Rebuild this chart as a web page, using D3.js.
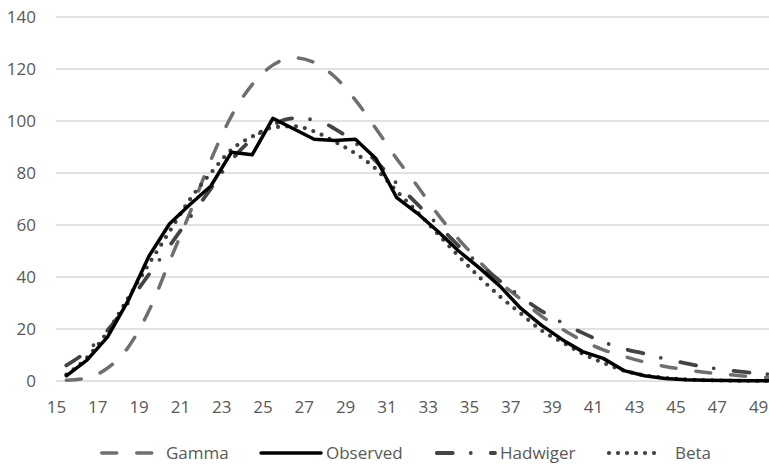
<!DOCTYPE html>
<html>
<head>
<meta charset="utf-8">
<script src="https://cdn.jsdelivr.net/npm/d3@7"></script>
<style>
  body { margin: 0; background: #fff; }
  text { font-family: "Open Sans", sans-serif; font-size: 17px; fill: #595959; }
</style>
</head>
<body>
<div id="viz"></div>
<script>
// ages (categories) and the four series
const ages = [15, 16, 17, 18, 19, 20, 21, 22, 23, 24, 25, 26, 27, 28, 29, 30, 31, 32,
              33, 34, 35, 36, 37, 38, 39, 40, 41, 42, 43, 44, 45, 46, 47, 48, 49];
const gamma = [0.3, 1.2, 5, 13, 27, 46, 65, 85, 102, 114, 121.5, 124.3, 122.5, 117, 108,
               97, 85.5, 75, 64, 54.5, 46, 38, 31.5, 25, 20, 15.5, 12, 9.5, 7.3, 5.6,
               4.3, 3.3, 2.5, 1.8, 1.3];
const observed = [2, 8, 17, 31, 48, 60.5, 68, 75, 88, 87, 101, 97, 93, 92.5, 93,
                  85.5, 70.5, 64.5, 57.5, 50, 43.5, 36.5, 28, 21.5, 16, 11.3, 8.7, 4, 2, 1,
                  0.5, 0.3, 0.2, 0.1, 0.1];
const hadwiger = [6, 11.5, 19.5, 30, 41, 52, 63, 74, 85, 93, 98.5, 101, 100.5, 97, 91.5,
                  84.5, 76, 68, 60, 52, 45, 38.5, 32.5, 27, 22.5, 18.5, 15, 12.4, 10.5, 8.5,
                  6.8, 5.3, 4.2, 3.3, 2.6];
const beta = [2.5, 9, 19, 32, 45, 57.5, 70, 80, 89, 94, 97.5, 98, 96, 92, 87.5,
              81.5, 73, 65, 56.5, 48, 40, 32.5, 26, 19.5, 15, 10.5, 7, 4, 2.2, 1.2,
              0.6, 0.3, 0.15, 0.05, 0];
const xTicks = [15, 17, 19, 21, 23, 25, 27, 29, 31, 33, 35, 37, 39, 41, 43, 45, 47, 49];
const yTicks = [0, 20, 40, 60, 80, 100, 120, 140];

const W = 769, H = 466;

const svg = d3.select("#viz").append("svg")
    .attr("width", W)
    .attr("height", H);

const x = d3.scaleLinear().domain([15, 50]).range([56, 778.75]);
const y = d3.scaleLinear().domain([0, 140]).range([381, 17]);

// gridlines + y labels
const yAxis = d3.axisLeft(y).tickValues(yTicks).tickSize(0).tickPadding(0);
svg.append("g")
    .attr("transform", "translate(36,0)")
    .call(yAxis)
    .call(g => g.select(".domain").remove())
    .call(g => g.selectAll("text").attr("dy", "0.35em").attr("x", 0));

svg.append("g")
    .selectAll("line")
    .data(yTicks)
    .join("line")
    .attr("x1", 56)
    .attr("x2", W)
    .attr("y1", d => y(d))
    .attr("y2", d => y(d))
    .attr("stroke", "#d9d9d9")
    .attr("stroke-width", 1.5);

// x labels
const xAxis = d3.axisBottom(x).tickValues(xTicks).tickSize(0).tickPadding(0);
svg.append("g")
    .attr("transform", "translate(0,407)")
    .call(xAxis)
    .call(g => g.select(".domain").remove())
    .call(g => g.selectAll("text").attr("y", 0).attr("dy", "0.35em"));

const series = [
  { name: "Gamma", values: gamma, color: "#6f6f6f", width: 3.5, dash: "15 20", curve: d3.curveMonotoneX },
  { name: "Observed", values: observed, color: "#000000", width: 3.5, dash: null, curve: d3.curveLinear },
  { name: "Hadwiger", values: hadwiger, color: "#444444", width: 3.8, dash: "16 18 0 20", curve: d3.curveMonotoneX },
  { name: "Beta", values: beta, color: "#3f3f3f", width: 4.2, dash: "0 9", curve: d3.curveMonotoneX }
];

// draw order: gamma, hadwiger, beta under observed
const drawOrder = [series[0], series[2], series[3], series[1]];

drawOrder.forEach(s => {
  const line = d3.line()
      .x((d, i) => x(ages[i] + 0.5))
      .y(d => y(d))
      .curve(s.curve);
  svg.append("path")
      .datum(s.values)
      .attr("d", line)
      .attr("fill", "none")
      .attr("stroke", s.color)
      .attr("stroke-width", s.width)
      .attr("stroke-linecap", "round")
      .attr("stroke-linejoin", "round")
      .attr("stroke-dasharray", s.dash);
});

// legend
const legendY = 453;
const legendPos = [
  { x1: 101.75, x2: 157, tx: 166 },
  { x1: 261, x2: 321, tx: 326 },
  { x1: 436.75, x2: 495, tx: 500 },
  { x1: 609, x2: 663, tx: 675 }
];

series.forEach((s, i) => {
  const p = legendPos[i];
  svg.append("line")
      .attr("x1", p.x1)
      .attr("x2", p.x2)
      .attr("y1", legendY)
      .attr("y2", legendY)
      .attr("stroke", s.color)
      .attr("stroke-width", s.width)
      .attr("stroke-linecap", "round")
      .attr("stroke-dasharray", s.dash);
  svg.append("text")
      .attr("x", p.tx)
      .attr("y", legendY)
      .attr("dy", "0.35em")
      .text(s.name);
});
</script>
</body>
</html>
